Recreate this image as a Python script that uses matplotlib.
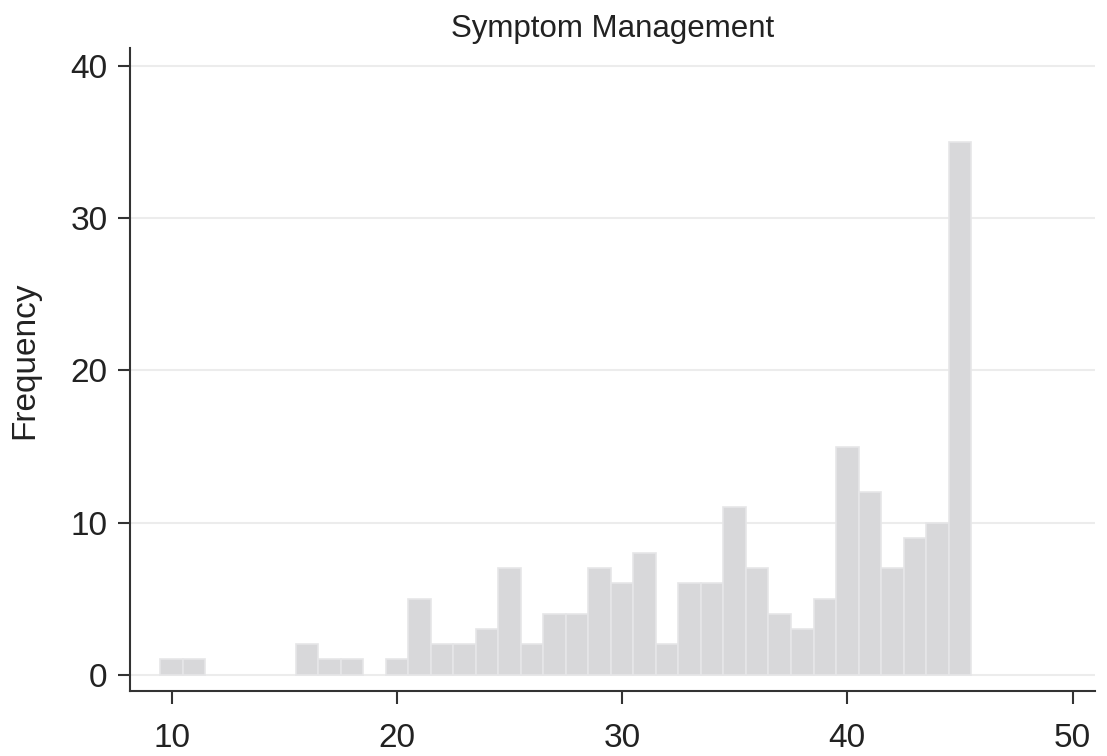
import matplotlib
matplotlib.use('Agg')
import matplotlib.pyplot as plt

# score values and their frequencies
scores = [10, 11, 16, 17, 18, 20, 21, 22, 23, 24, 25, 26, 27, 28, 29, 30,
          31, 32, 33, 34, 35, 36, 37, 38, 39, 40, 41, 42, 43, 44, 45]
counts = [1, 1, 2, 1, 1, 1, 5, 2, 2, 3, 7, 2, 4, 4, 7, 6,
          8, 2, 6, 6, 11, 7, 4, 3, 5, 15, 12, 7, 9, 10, 35]
xticks = [10, 20, 30, 40, 50]
yticks = [0, 10, 20, 30, 40]

plt.rcParams['font.family'] = ['Liberation Sans', 'DejaVu Sans']

fig = plt.figure(figsize=(11.07, 7.56), dpi=100)
ax = fig.add_axes([0.1174, 0.086, 0.8718, 0.8505])

ax.bar(scores, counts, width=1.0, align='center', color='#d8d8da',
       edgecolor='#e6e6e8', linewidth=1.2, zorder=2)

ax.set_xlim(8.15, 51.0)
ax.set_ylim(-1.07, 41.2)
ax.set_xticks(xticks)
ax.set_yticks(yticks)
ax.grid(axis='y', color='#ececec', linewidth=1.5, zorder=0)

for s in ['top', 'right']:
    ax.spines[s].set_visible(False)
for s in ['left', 'bottom']:
    ax.spines[s].set_color('#333333')
    ax.spines[s].set_linewidth(1.5)

ax.tick_params(axis='both', colors='#333333', labelcolor='#222222',
               labelsize=24, length=9, width=1.5)
ax.tick_params(axis='x', pad=14)
ax.tick_params(axis='y', pad=7)

ax.set_ylabel('Frequency', fontsize=24, color='#222222')
ax.yaxis.set_label_coords(-0.093, 0.515)
ax.set_title('Symptom Management', fontsize=22.5, color='#222222', pad=8)

fig.savefig('out.png', dpi=100)
